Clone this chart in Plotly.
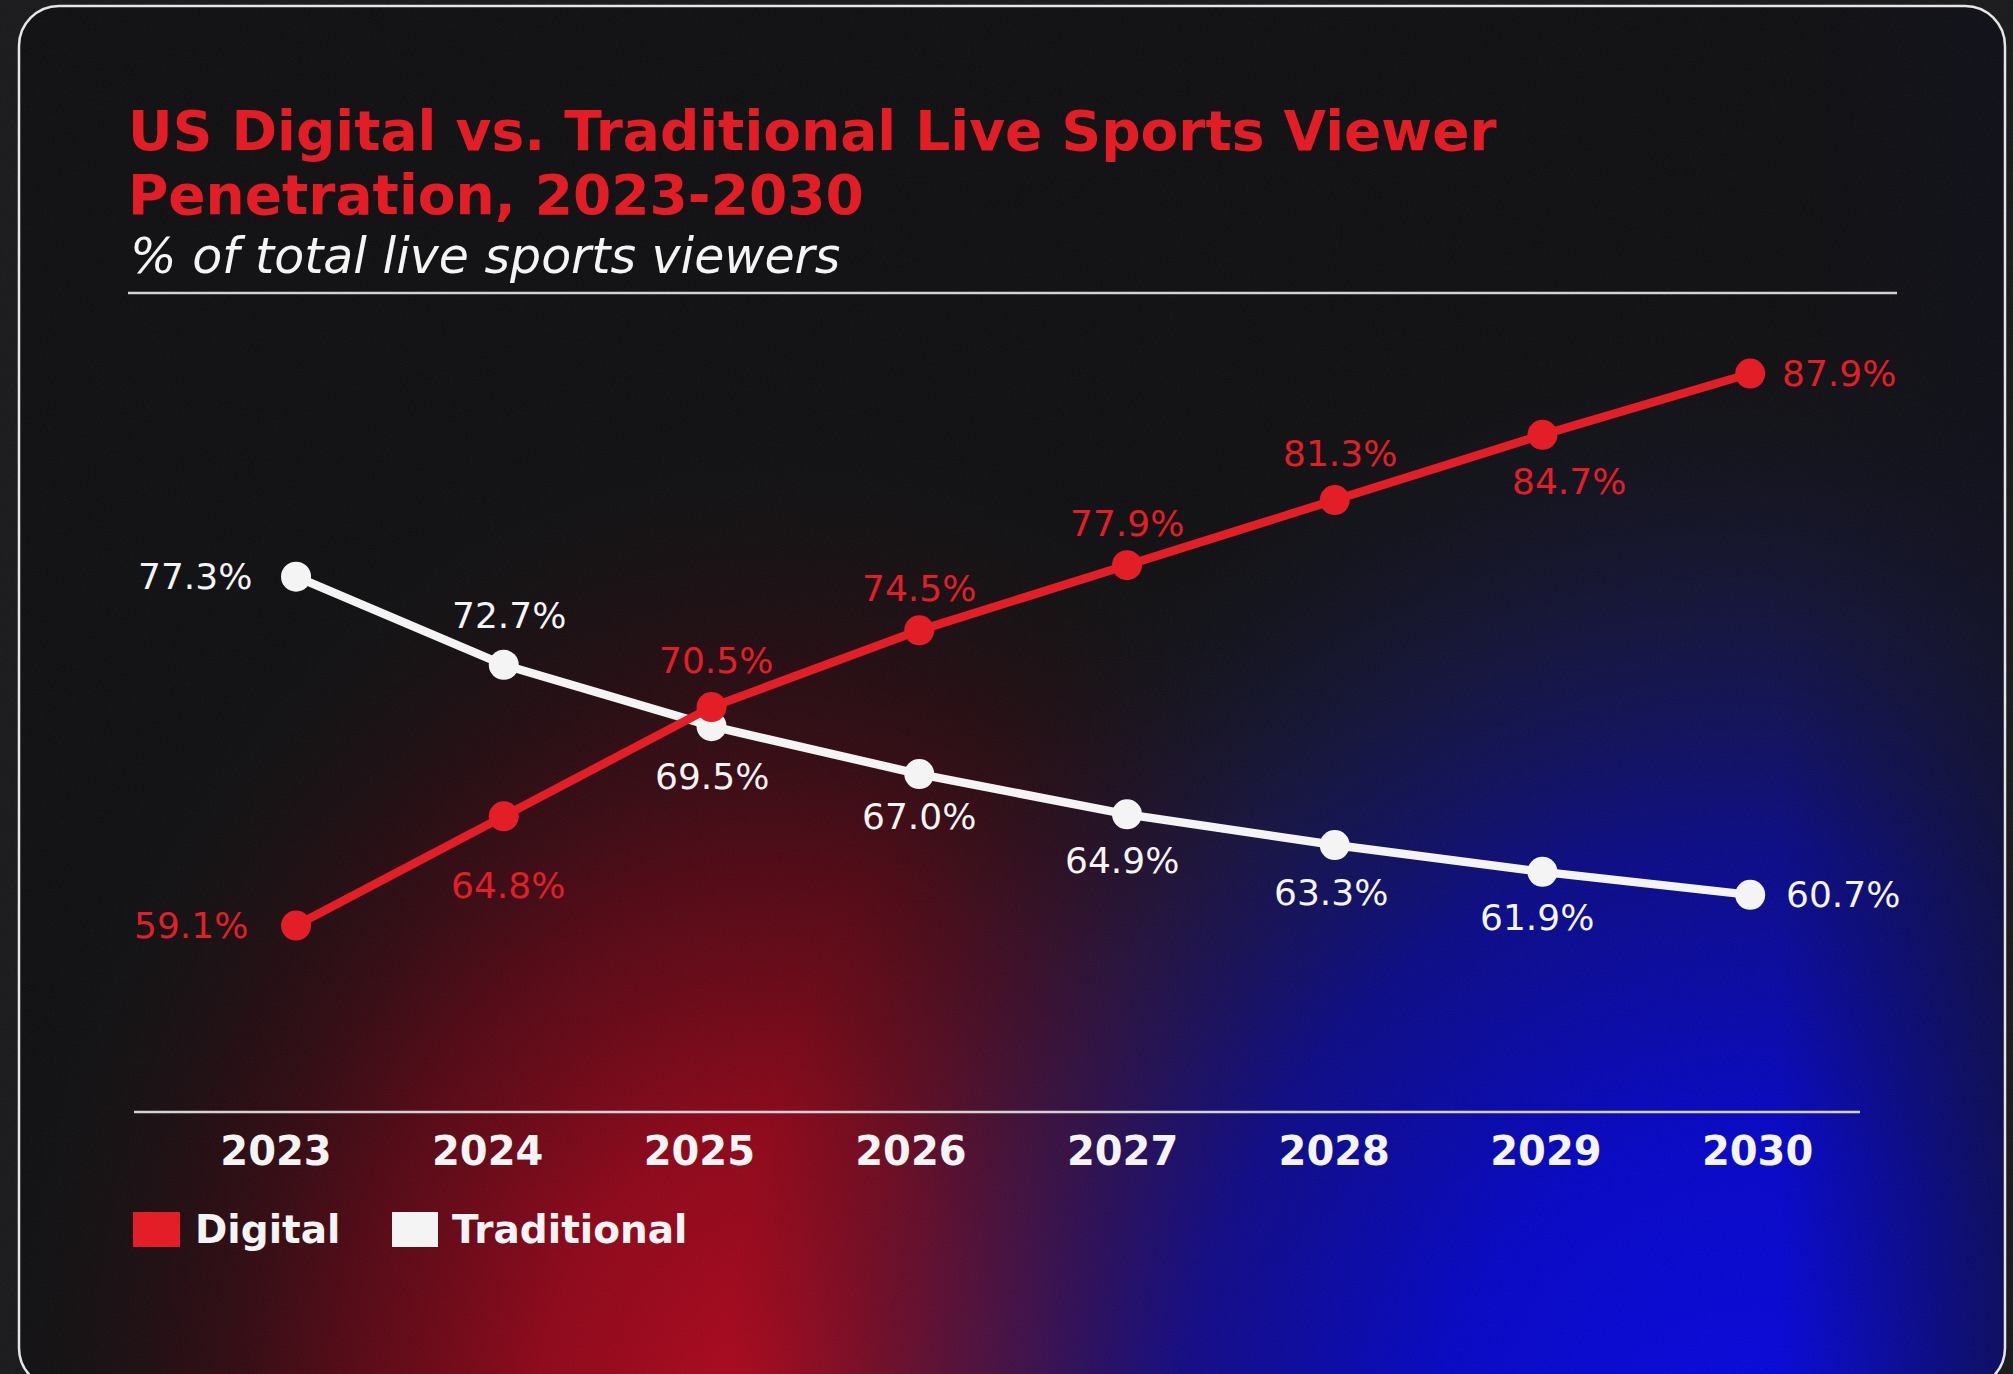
import base64
import plotly.graph_objects as go

# ---------------- data ----------------
years = [2023, 2024, 2025, 2026, 2027, 2028, 2029, 2030]
tick_labels = ["2023", "2024", "2025", "2026", "2027", "2028", "2029", "2030"]
digital = [59.1, 64.8, 70.5, 74.5, 77.9, 81.3, 84.7, 87.9]
traditional = [77.3, 72.7, 69.5, 67.0, 64.9, 63.3, 61.9, 60.7]

title_line1 = "US Digital vs. Traditional Live Sports Viewer"
title_line2 = "Penetration, 2023-2030"
subtitle = "% of total live sports viewers"
series_names = ["Digital", "Traditional"]

# ---------------- style ----------------
W, H = 2013, 1374
RED = "#e41e26"
WHITE = "#f4f4f4"
FONT = "DejaVu Sans"

# label placement per point: (xanchor, dx px, dy px downward)
digital_label_pos = [("right", -46, 0), ("center", 4, 69), ("center", 4, -47), ("center", 0, -42),
                     ("center", 0, -42), ("center", 5, -47), ("center", 27, 47), ("left", 30, 0)]
traditional_label_pos = [("right", -42, 0), ("center", 5, -49), ("center", 0, 50), ("center", 0, 42),
                         ("center", -5, 46), ("center", -4, 47), ("center", -5, 46), ("left", 34, 0)]


def px(x):
    return x / W


def py(y):
    return 1 - y / H


# ---------------- background (svg) ----------------
svg = f'''<svg xmlns="http://www.w3.org/2000/svg" width="{W}" height="{H}" viewBox="0 0 {W} {H}">
<defs>
<radialGradient id="rg" cx="770" cy="1430" r="1000" gradientUnits="userSpaceOnUse"
 gradientTransform="translate(770 1430) scale(0.78 1) translate(-770 -1430)">
<stop offset="0" stop-color="#b2071f" stop-opacity="1"/>
<stop offset="0.3" stop-color="#920619" stop-opacity="0.96"/>
<stop offset="0.55" stop-color="#620615" stop-opacity="0.82"/>
<stop offset="0.78" stop-color="#340810" stop-opacity="0.5"/>
<stop offset="1" stop-color="#141414" stop-opacity="0"/>
</radialGradient>
<radialGradient id="bg" cx="1740" cy="1480" r="1160" gradientUnits="userSpaceOnUse"
 gradientTransform="translate(1740 1480) scale(0.88 1) translate(-1740 -1480)">
<stop offset="0" stop-color="#0808e2" stop-opacity="1"/>
<stop offset="0.3" stop-color="#0606c4" stop-opacity="1"/>
<stop offset="0.55" stop-color="#0a0a94" stop-opacity="0.88"/>
<stop offset="0.75" stop-color="#16165c" stop-opacity="0.55"/>
<stop offset="1" stop-color="#141418" stop-opacity="0"/>
</radialGradient>
<linearGradient id="edge" x1="1780" y1="0" x2="2005" y2="0" gradientUnits="userSpaceOnUse">
<stop offset="0" stop-color="#0e0e1c" stop-opacity="0"/>
<stop offset="1" stop-color="#0e0e1c" stop-opacity="0.6"/>
</linearGradient>
<filter id="noise" x="0" y="0" width="100%" height="100%">
<feTurbulence type="fractalNoise" baseFrequency="0.85" numOctaves="2" seed="3"/>
<feColorMatrix type="saturate" values="0"/>
</filter>
<clipPath id="card"><rect x="19" y="6" width="1986" height="1382" rx="40"/></clipPath>
</defs>
<rect x="0" y="0" width="{W}" height="{H}" fill="#19191b"/>
<g clip-path="url(#card)">
<rect x="0" y="0" width="{W}" height="{H}" fill="#0f0f11"/>
<rect x="0" y="0" width="{W}" height="{H}" fill="url(#rg)"/>
<rect x="0" y="0" width="{W}" height="{H}" fill="url(#bg)"/>
<rect x="0" y="0" width="{W}" height="{H}" fill="url(#edge)"/>
</g>
<rect x="0" y="0" width="{W}" height="{H}" filter="url(#noise)" opacity="0.06"/>
<rect x="19" y="6" width="1986" height="1382" rx="40" fill="none" stroke="#e6e6e6" stroke-width="2.5"/>
</svg>'''
svg_uri = "data:image/svg+xml;base64," + base64.b64encode(svg.encode("utf-8")).decode("ascii")

# ---------------- figure ----------------
fig = go.Figure()

fig.add_trace(go.Scatter(
    x=years, y=traditional, name=series_names[1], mode="lines+markers",
    line=dict(color=WHITE, width=8.5), marker=dict(color=WHITE, size=30, line=dict(width=0)),
    hoverinfo="skip", showlegend=False))
fig.add_trace(go.Scatter(
    x=years, y=digital, name=series_names[0], mode="lines+markers",
    line=dict(color=RED, width=8.5), marker=dict(color=RED, size=30, line=dict(width=0)),
    hoverinfo="skip", showlegend=False))
# carrier trace for the year axis
fig.add_trace(go.Scatter(
    x=years, y=digital, xaxis="x2", mode="markers", marker=dict(opacity=0),
    hoverinfo="skip", showlegend=False))

annotations = []
for vals, pos, color in ((digital, digital_label_pos, RED), (traditional, traditional_label_pos, WHITE)):
    for yr, v, (anc, dx, dy) in zip(years, vals, pos):
        annotations.append(dict(
            x=yr, y=v, xref="x", yref="y", text=f"{v:.1f}%", showarrow=False,
            xanchor=anc, yanchor="middle", xshift=dx, yshift=-dy,
            font=dict(family=FONT, size=36, color=color)))

# titles
annotations += [
    dict(x=px(126), y=py(131), xref="paper", yref="paper", text=title_line1, showarrow=False,
         xanchor="left", yanchor="middle", font=dict(family=FONT, size=55, color="#e31d25", weight=700)),
    dict(x=px(126), y=py(195), xref="paper", yref="paper", text=title_line2, showarrow=False,
         xanchor="left", yanchor="middle", font=dict(family=FONT, size=55, color="#e31d25", weight=700)),
    dict(x=px(128), y=py(256), xref="paper", yref="paper", text=subtitle, showarrow=False,
         xanchor="left", yanchor="middle",
         font=dict(family=FONT, size=49, color=WHITE, style="italic")),
]

# legend
legend_items = [(series_names[0], RED, 133, 180, 193), (series_names[1], WHITE, 392, 438, 450)]
shapes = [
    dict(type="line", xref="paper", yref="paper", x0=px(128), x1=px(1897), y0=py(293), y1=py(293),
         line=dict(color="#d2d2d2", width=2.5)),
    dict(type="line", xref="paper", yref="paper", x0=px(134), x1=px(1860), y0=py(1112), y1=py(1112),
         line=dict(color="#d2d2d2", width=2.5)),
]
for name, col, x0, x1, tx in legend_items:
    shapes.append(dict(type="rect", xref="paper", yref="paper", x0=px(x0), x1=px(x1),
                       y0=py(1247), y1=py(1212), fillcolor=col, line=dict(width=0)))
    annotations.append(dict(x=px(tx), y=py(1229), xref="paper", yref="paper", text=name,
                            showarrow=False, xanchor="left", yanchor="middle",
                            font=dict(family=FONT, size=39, color=WHITE, weight=700)))

fig.update_layout(
    width=W, height=H,
    margin=dict(l=0, r=0, t=0, b=0),
    paper_bgcolor="#19191b", plot_bgcolor="rgba(0,0,0,0)",
    xaxis=dict(range=[2021.575, 2031.265], visible=False, fixedrange=True),
    xaxis2=dict(range=[2021.696, 2031.207], overlaying="x", anchor="free", position=py(1124),
                side="bottom", tickmode="array", tickvals=years, ticktext=tick_labels,
                showgrid=False, zeroline=False, showline=False, ticks="",
                tickfont=dict(family=FONT, size=40, color=WHITE, weight=700), fixedrange=True),
    yaxis=dict(range=[35.70, 107.39], visible=False, fixedrange=True),
    images=[dict(source=svg_uri, xref="paper", yref="paper", x=0, y=1, sizex=1, sizey=1,
                 sizing="stretch", xanchor="left", yanchor="top", layer="below")],
    shapes=shapes,
    annotations=annotations,
    showlegend=False,
)

fig.write_html("out.html", config={"displayModeBar": False},
               post_script="document.body.style.margin='0';document.body.style.overflow='hidden';")
